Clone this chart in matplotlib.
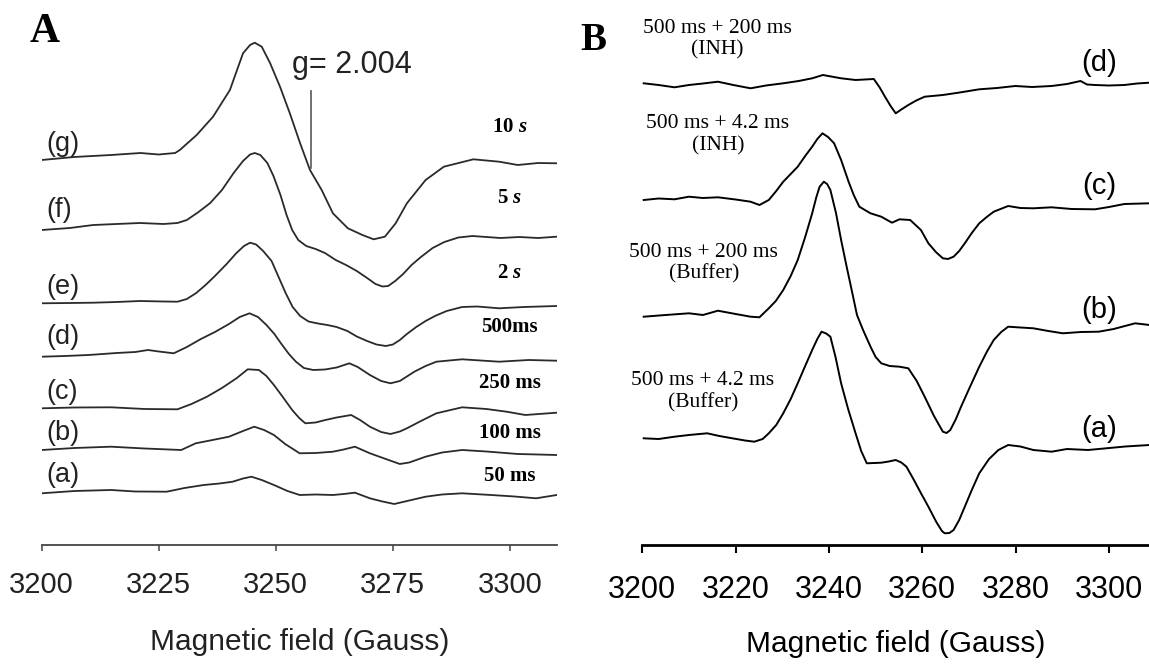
import matplotlib
matplotlib.use('Agg')
from matplotlib import pyplot as plt

plt.rcParams['font.family'] = ['Liberation Sans', 'DejaVu Sans']
plt.rcParams['mathtext.fontset'] = 'custom'
plt.rcParams['mathtext.it'] = 'Liberation Serif:italic:bold'
plt.rcParams['mathtext.rm'] = 'Liberation Serif:bold'

# ---- panel A: EPR spectra at increasing freeze-quench times ----
field_Ag = [3200, 3206.9, 3214.8, 3221.1, 3225, 3228.5, 3229.5, 3233.1, 3236.6, 3240.2, 3243, 3244.5, 3245.5,
            3247, 3248.8, 3250.9, 3253, 3255.2, 3257.3, 3259.8, 3262.2, 3265.4, 3268.5, 3270.9, 3273.3,
            3275.6, 3278, 3282, 3285.9, 3292.2, 3297.7, 3301.7, 3306, 3310]
sig_Ag = [385, 388, 390, 392, 390.5, 392, 395, 410, 428.3, 455, 491.7, 500, 502.3,
          498.3, 481.7, 458.3, 431.7, 401.7, 375, 355, 331.7, 316.7, 310, 305.7, 308.3,
          321.7, 341.7, 365, 378.3, 385.7, 383.3, 380, 382, 381.7]

field_Af = [3200, 3206, 3211, 3216, 3221, 3226, 3229, 3231, 3233.5, 3236, 3238.5, 3241, 3243, 3244.5,
            3245.5, 3246.7, 3248.2, 3249.5, 3251, 3252.3, 3253.5, 3254.8, 3256.5, 3258.5, 3260.5,
            3262.8, 3265, 3267.3, 3269.5, 3271.3, 3272.8, 3274, 3275.5, 3277.2, 3279, 3281, 3283.5,
            3286, 3289, 3292, 3295, 3298, 3302, 3306, 3310]
sig_Af = [315, 317, 320, 321, 322, 321, 322, 325, 333, 342, 355, 372, 384, 390.5,
          392, 390, 382, 369, 350, 330, 315, 305, 299, 296, 292,
          285, 280, 274, 267, 261, 258.5, 259, 264, 271, 280, 288, 297,
          303, 307.5, 309, 308, 307, 308, 307, 308.3]

field_Ae = [3200, 3206, 3211, 3216, 3221, 3226, 3229, 3231, 3233, 3235, 3237, 3239.5, 3241.5, 3243.2,
            3244.5, 3245.8, 3247.3, 3249.1, 3250.6, 3252.1, 3253.6, 3255.2, 3257, 3259, 3261, 3263,
            3265.3, 3267.3, 3269.5, 3271.5, 3273.5, 3275, 3276.5, 3278, 3280, 3282, 3284, 3286.5,
            3289.8, 3293, 3297.7, 3303, 3310]
sig_Ae = [241.7, 242, 242.3, 243, 244, 243.5, 243.3, 246, 252, 260, 269, 281, 291.5, 299,
          302.3, 300.5, 294, 284, 268, 252, 238, 229, 223.5, 221.5, 220, 218,
          214, 208.5, 204, 200.5, 199, 200.5, 205, 211, 218, 224, 229, 234,
          238, 238.5, 236.7, 238, 239]

field_Ad = [3200, 3205, 3210, 3216, 3220, 3222.7, 3225, 3228.2, 3231, 3234, 3237, 3240, 3242.3, 3244.4,
            3246.2, 3248, 3249.7, 3251.1, 3252.8, 3254.3, 3256, 3258, 3260.5, 3263, 3265.7, 3267.5,
            3270.1, 3272.5, 3274.5, 3276.5, 3279.6, 3282, 3284.3, 3289.8, 3297.7, 3304, 3310]
sig_Ad = [188.3, 189, 190, 192, 193, 195, 193.5, 191.7, 198, 206, 213, 221, 228, 231.7,
          228, 220, 211, 201.7, 191, 183.3, 177, 175, 175.5, 177.5, 181.7, 178,
          170, 164, 161.7, 164, 173.3, 179, 183.3, 185.7, 183.3, 185, 184.3]

field_Ac = [3200, 3207, 3214.8, 3222, 3229, 3232, 3235.3, 3238.5, 3241.6, 3244, 3246.4, 3248, 3249.6,
            3251.5, 3253.5, 3255, 3256.3, 3258.5, 3260.6, 3263, 3266.1, 3268, 3270.1, 3272.5, 3274.5,
            3276.5, 3278, 3281, 3284.3, 3289.8, 3295, 3299.3, 3303.3, 3310]
sig_Ac = [136.7, 137.5, 137.7, 136, 135.7, 141, 148.3, 157, 166.7, 175.7, 175, 169, 160,
          148, 135, 127, 121.7, 122.5, 125, 127.5, 130, 125, 118.3, 113, 111,
          113.5, 116.7, 124, 131.7, 137.7, 136, 133.3, 130, 132.3]

field_Ab = [3200, 3207, 3214.8, 3222, 3229.8, 3232.9, 3236.5, 3240, 3243, 3245.4, 3247.5, 3249.6, 3252,
            3255.1, 3258.5, 3262.2, 3264.5, 3266.9, 3268.5, 3270.1, 3273.5, 3276.5, 3278.5, 3282,
            3285.5, 3289.8, 3295, 3301.7, 3306, 3310]
sig_Ab = [95, 97, 98.3, 96.5, 95, 101.7, 105, 108.3, 114, 118.3, 115, 110, 101,
          91.7, 92, 93.3, 95.5, 98.3, 95, 91.7, 86, 81, 82.5, 88.3,
          92.5, 95, 93.5, 91, 90.5, 90]

field_Aa = [3200, 3207, 3214.8, 3220, 3226.7, 3230.5, 3234.6, 3238, 3240.8, 3243, 3244.8, 3247, 3249.6,
            3252.5, 3255.1, 3258.5, 3262.2, 3264.5, 3266.9, 3268.5, 3270.1, 3272.8, 3275.3, 3278.5,
            3282, 3285.5, 3289.8, 3296, 3301, 3305.6, 3310]
sig_Aa = [51.7, 54, 55, 53.5, 53.3, 57, 60, 61.5, 63.3, 66.5, 68.3, 65, 60,
          54, 50, 50.5, 50, 51, 52.3, 49.5, 46.7, 43.5, 41, 44.5,
          48.3, 50.5, 51.7, 50, 48.5, 46.7, 50]

labels_A = ['(g)', '(f)', '(e)', '(d)', '(c)', '(b)', '(a)']
label_pos_A = [401, 335, 258, 208.3, 153.3, 111.7, 70]
times_A = ['10 $s$', '5 $s$', '2 $s$', '500ms', '250 ms', '100 ms', '50 ms']
times_pos_A = [418.3, 347, 272, 218.3, 161.7, 111.7, 69]

# ---- panel B: double-mix spectra ----
field_Bd = [3200.3, 3203.5, 3206.9, 3210, 3213, 3216.2, 3219.5, 3223.2, 3226.5, 3230.2, 3233.5, 3236.4,
            3238.7, 3242.6, 3245.7, 3249.6, 3250.8, 3252, 3253.2, 3254.3, 3255.5, 3257, 3258.7, 3260.5,
            3264.4, 3268, 3272.2, 3276, 3279.9, 3283.5, 3287.7, 3291, 3293.9, 3295.3, 3297, 3300,
            3303.3, 3306, 3308.7]
sig_Bd = [461.7, 460, 457.7, 460, 461.5, 463.3, 460, 456.7, 459.5, 461.7, 464, 466.7,
          470, 466.7, 465, 466, 458, 448.3, 439, 431.7, 435.5, 440, 444.5, 448.3,
          450, 452.5, 455.7, 457, 459, 458, 459, 461, 464, 460.5, 460, 459.5,
          460, 461.5, 462.3]

field_Bc = [3200.3, 3203.5, 3206.9, 3210, 3213, 3216.2, 3220, 3223.2, 3225.1, 3227.1, 3228.7, 3230.2,
            3231.8, 3233.3, 3234.9, 3236.4, 3237.5, 3238.6, 3239.8, 3241.1, 3242.6, 3244.2, 3245.3,
            3246.5, 3248.9, 3251.2, 3253.5, 3255.1, 3257.4, 3259.7, 3261.3, 3262.9, 3264.4, 3265.5,
            3266.7, 3267.9, 3269.1, 3270.6, 3272.2, 3273.8, 3275.3, 3278.4, 3281, 3283.8, 3287.7,
            3292, 3297, 3300, 3303.3, 3308.7]
sig_Bc = [345, 346.5, 345.7, 348.3, 347, 347.7, 345.5, 343.3, 340, 345, 354, 363.3,
          371, 378.3, 389, 398.3, 406, 411.7, 408, 401.7, 385, 363.3, 350,
          338.3, 331.7, 328.3, 322.3, 325.7, 325, 315, 301.7, 293, 286.7, 286,
          288.3, 294, 301.7, 312, 321.7, 328, 333.3, 339, 337, 336.7, 337.7,
          336, 335.7, 338, 341, 341.7]

field_Bb = [3200.3, 3205, 3210, 3213, 3216.2, 3220, 3223.2, 3225.1, 3227.1, 3228.6, 3230.2, 3231.8,
            3233.3, 3234.9, 3236.4, 3237.3, 3238, 3238.9, 3239.6, 3240.3, 3241.5, 3242.6, 3243.8,
            3245, 3246, 3247.3, 3248.9, 3250, 3251.2, 3253, 3255.1, 3257, 3258.8, 3260.5, 3262.5,
            3264.4, 3265.2, 3266, 3267.2, 3268.3, 3270.2, 3272.2, 3273.8, 3275.3, 3276.9, 3278.4,
            3281, 3283.8, 3287, 3290.1, 3294, 3297.8, 3301, 3305.6, 3308.7]
sig_Bb = [228.3, 230, 231.7, 230, 234.3, 231, 228.3, 227.7, 236.7, 244, 255, 269,
          285, 308, 331.7, 348, 358.3, 363.3, 361, 355, 332, 305, 278,
          252, 230, 215, 198.3, 188, 181.7, 179, 178.3, 176.7, 164, 148.3, 129,
          113.3, 112, 115, 126, 138.3, 158, 178.3, 193, 205, 213, 218.3,
          217.5, 216.7, 214, 211.7, 213, 213.3, 216, 221.7, 220]

field_Ba = [3200.3, 3203.5, 3206.9, 3210, 3213.9, 3216.5, 3219.3, 3222, 3224, 3225.8, 3227.1, 3228.7,
            3230.2, 3231.8, 3233.3, 3234.9, 3236.4, 3237.5, 3238.4, 3239.4, 3240.3, 3241.4, 3242.6,
            3244.1, 3245.7, 3246.9, 3248.1, 3249.7, 3251.2, 3252.8, 3254.3, 3255.5, 3256.6, 3258.2,
            3259.8, 3261.3, 3263, 3264.2, 3264.8, 3265.8, 3266.7, 3267.9, 3269.1, 3270.6, 3272.2,
            3274.3, 3276.3, 3278.4, 3281, 3283.8, 3287.7, 3291, 3295.5, 3299.4, 3303.5, 3308.7]
sig_Ba = [106.7, 106, 108.3, 110, 111.7, 109, 106.7, 104.5, 103.3, 106, 111.7, 120,
          131.7, 146, 161.7, 179, 195, 206, 213.3, 211.5, 208.3, 188, 161.7,
          136, 111.7, 94, 81.7, 82, 82.3, 83.5, 85, 82.5, 78.3, 65,
          51, 38.3, 23, 14, 11.7, 12, 15, 25, 38.3, 55, 71.7,
          86, 95, 100, 98.5, 95, 93.3, 96, 95, 96.7, 98.5, 100]

labels_B = ['(d)', '(c)', '(b)', '(a)']
label_pos_B = [482, 359, 235, 116]
notes_B = ['500 ms + 200 ms\n(INH)', '500 ms + 4.2 ms\n(INH)',
           '500 ms + 200 ms\n(Buffer)', '500 ms + 4.2 ms\n(Buffer)']
notes_x_B = [3216, 3216.2, 3213.2, 3213]
notes_y_B = [505.8, 410.4, 281.7, 152.9]

W, H = 1149, 665
fig = plt.figure(figsize=(W / 100, H / 100), dpi=100)

# panel A
axA = fig.add_axes([41.7 / W, (H - 545) / H, (556.7 - 41.7) / W, 545 / H])
for f, s in [(field_Ag, sig_Ag), (field_Af, sig_Af), (field_Ae, sig_Ae), (field_Ad, sig_Ad),
             (field_Ac, sig_Ac), (field_Ab, sig_Ab), (field_Aa, sig_Aa)]:
    axA.plot(f, s, color='#2a2a2a', lw=1.3, solid_joinstyle='round')
axA.set_xlim(3200, 3310)
axA.set_ylim(0, 545)
for lab, y in zip(labels_A, label_pos_A):
    axA.text(3200.9, y, lab, fontsize=19.5, va='center', ha='left', color='#222222')
for lab, y in zip(times_A, times_pos_A):
    axA.text(3300, y, lab, fontsize=15, va='center', ha='center',
             family='Liberation Serif', weight='bold')
axA.plot([3257.6, 3257.6], [377, 454.3], color='#666666', lw=1.3)
axA.text(3253.4, 471.7, 'g= 2.004', fontsize=22, va='baseline', ha='left', color='#222222')
axA.set_xticks([3200, 3225, 3250, 3275, 3300])
axA.set_yticks([])
for sp in ['left', 'right', 'top']:
    axA.spines[sp].set_visible(False)
axA.spines['bottom'].set_color('#444444')
axA.spines['bottom'].set_linewidth(1.3)
axA.tick_params(axis='x', direction='out', length=4.5, width=1.1, color='#444444',
                labelsize=21, pad=14, labelcolor='#222222')
axA.set_xlabel('Magnetic field (Gauss)', fontsize=21.5, labelpad=21, color='#222222')
axA.patch.set_visible(False)

# panel B
axB = fig.add_axes([642.3 / W, (H - 545) / H, (W - 642.3) / W, 545 / H])
for f, s in [(field_Bd, sig_Bd), (field_Bc, sig_Bc), (field_Bb, sig_Bb), (field_Ba, sig_Ba)]:
    axB.plot(f, s, color='black', lw=1.4, solid_joinstyle='round')
axB.set_xlim(3200, 3200 + (W - 642.3) / 4.667)
axB.set_ylim(0, 545)
for lab, y in zip(labels_B, label_pos_B):
    axB.text(3297.9, y, lab, fontsize=21, va='center', ha='center')
for lab, x, y in zip(notes_B, notes_x_B, notes_y_B):
    axB.text(x, y, lab, fontsize=15.5, va='center', ha='center',
             family='Liberation Serif', linespacing=1.2)
axB.set_xticks([3200, 3220, 3240, 3260, 3280, 3300])
axB.set_yticks([])
for sp in ['left', 'right', 'top']:
    axB.spines[sp].set_visible(False)
axB.spines['bottom'].set_linewidth(2)
axB.tick_params(axis='x', direction='out', length=6, width=1.5, labelsize=22, pad=15.5)
axB.set_xlabel('Magnetic field (Gauss)', fontsize=21.5, labelpad=18)
axB.patch.set_visible(False)

fig.text(29.6 / W, 1 - 41.7 / H, 'A', fontsize=30, family='Liberation Serif', weight='bold',
         ha='left', va='baseline')
fig.text(580 / W, 1 - 50 / H, 'B', fontsize=28, family='Liberation Serif', weight='bold',
         ha='left', va='baseline')

fig.savefig('out.png', dpi=100)
